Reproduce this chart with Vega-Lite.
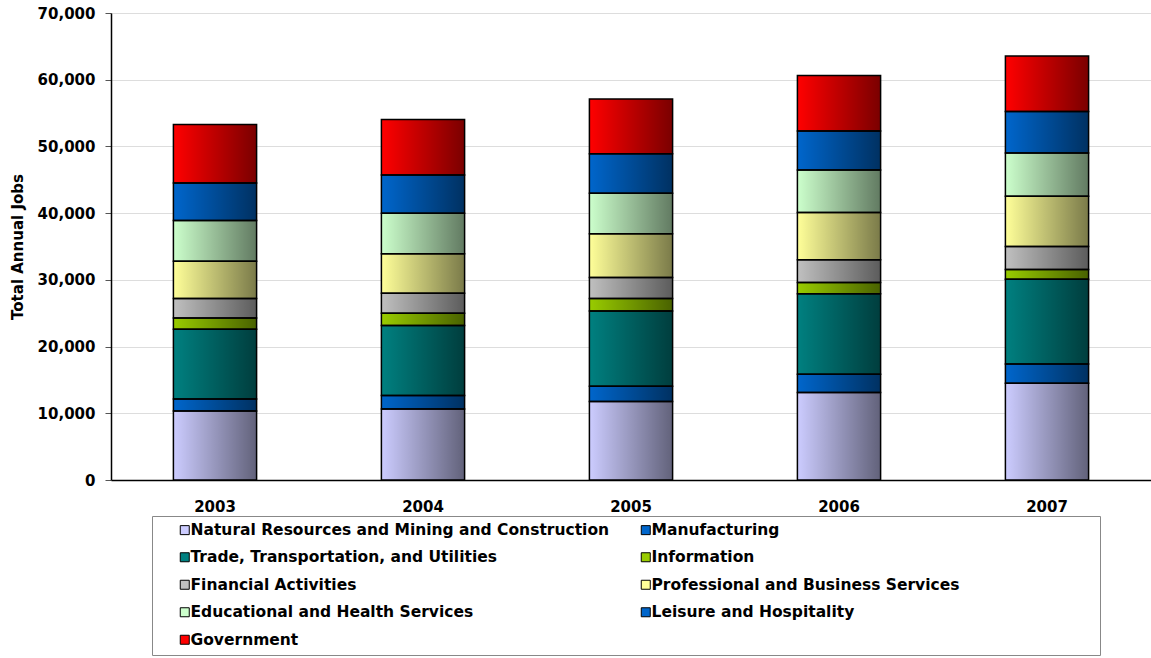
{
  "$schema": "https://vega.github.io/schema/vega-lite/v6.json",
  "width": 1040,
  "height": 467,
  "autosize": {"type": "none"},
  "padding": {"left": 111, "top": 13, "right": 0, "bottom": 178},
  "background": "white",
  "config": {"view": {"stroke": null}, "font": "DejaVu Sans"},
  "data": {
    "values": [
      {"year": "2003", "sector": "Natural Resources and Mining and Construction", "jobs": 10350},
      {"year": "2003", "sector": "Manufacturing", "jobs": 1800},
      {"year": "2003", "sector": "Trade, Transportation, and Utilities", "jobs": 10450},
      {"year": "2003", "sector": "Information", "jobs": 1700},
      {"year": "2003", "sector": "Financial Activities", "jobs": 2900},
      {"year": "2003", "sector": "Professional and Business Services", "jobs": 5600},
      {"year": "2003", "sector": "Educational and Health Services", "jobs": 6100},
      {"year": "2003", "sector": "Leisure and Hospitality", "jobs": 5600},
      {"year": "2003", "sector": "Government", "jobs": 8800},
      {"year": "2004", "sector": "Natural Resources and Mining and Construction", "jobs": 10650},
      {"year": "2004", "sector": "Manufacturing", "jobs": 2000},
      {"year": "2004", "sector": "Trade, Transportation, and Utilities", "jobs": 10500},
      {"year": "2004", "sector": "Information", "jobs": 1850},
      {"year": "2004", "sector": "Financial Activities", "jobs": 3000},
      {"year": "2004", "sector": "Professional and Business Services", "jobs": 5900},
      {"year": "2004", "sector": "Educational and Health Services", "jobs": 6100},
      {"year": "2004", "sector": "Leisure and Hospitality", "jobs": 5700},
      {"year": "2004", "sector": "Government", "jobs": 8350},
      {"year": "2005", "sector": "Natural Resources and Mining and Construction", "jobs": 11750},
      {"year": "2005", "sector": "Manufacturing", "jobs": 2300},
      {"year": "2005", "sector": "Trade, Transportation, and Utilities", "jobs": 11300},
      {"year": "2005", "sector": "Information", "jobs": 1850},
      {"year": "2005", "sector": "Financial Activities", "jobs": 3150},
      {"year": "2005", "sector": "Professional and Business Services", "jobs": 6550},
      {"year": "2005", "sector": "Educational and Health Services", "jobs": 6100},
      {"year": "2005", "sector": "Leisure and Hospitality", "jobs": 5900},
      {"year": "2005", "sector": "Government", "jobs": 8200},
      {"year": "2006", "sector": "Natural Resources and Mining and Construction", "jobs": 13100},
      {"year": "2006", "sector": "Manufacturing", "jobs": 2750},
      {"year": "2006", "sector": "Trade, Transportation, and Utilities", "jobs": 12050},
      {"year": "2006", "sector": "Information", "jobs": 1700},
      {"year": "2006", "sector": "Financial Activities", "jobs": 3400},
      {"year": "2006", "sector": "Professional and Business Services", "jobs": 7100},
      {"year": "2006", "sector": "Educational and Health Services", "jobs": 6350},
      {"year": "2006", "sector": "Leisure and Hospitality", "jobs": 5850},
      {"year": "2006", "sector": "Government", "jobs": 8350},
      {"year": "2007", "sector": "Natural Resources and Mining and Construction", "jobs": 14500},
      {"year": "2007", "sector": "Manufacturing", "jobs": 2900},
      {"year": "2007", "sector": "Trade, Transportation, and Utilities", "jobs": 12700},
      {"year": "2007", "sector": "Information", "jobs": 1450},
      {"year": "2007", "sector": "Financial Activities", "jobs": 3450},
      {"year": "2007", "sector": "Professional and Business Services", "jobs": 7550},
      {"year": "2007", "sector": "Educational and Health Services", "jobs": 6450},
      {"year": "2007", "sector": "Leisure and Hospitality", "jobs": 6250},
      {"year": "2007", "sector": "Government", "jobs": 8300}
    ]
  },
  "transform": [
    {"calculate": "indexof(['Natural Resources and Mining and Construction', 'Manufacturing', 'Trade, Transportation, and Utilities', 'Information', 'Financial Activities', 'Professional and Business Services', 'Educational and Health Services', 'Leisure and Hospitality', 'Government'], datum.sector)", "as": "ord"}
  ],
  "encoding": {
    "x": {
      "field": "year", "type": "ordinal",
      "scale": {"paddingInner": 0.6, "paddingOuter": 0.3},
      "axis": {"title": null, "labelAngle": 0, "ticks": false, "labelPadding": 19, "labelFont": "DejaVu Sans", "labelFontWeight": "bold", "labelFontSize": 15, "labelColor": "black", "domainColor": "black", "domainWidth": 1.5, "grid": false}
    },
    "y": {
      "field": "jobs", "type": "quantitative", "stack": "zero",
      "scale": {"domain": [0, 70000], "nice": false},
      "axis": {"title": "Total Annual Jobs", "values": [0, 10000, 20000, 30000, 40000, 50000, 60000, 70000], "format": ",d", "labelFont": "DejaVu Sans", "labelFontWeight": "bold", "labelFontSize": 15, "labelColor": "black", "labelPadding": 10, "tickSize": 6, "tickColor": "#555555", "domainColor": "black", "domainWidth": 1.5, "gridColor": "#dddddd", "gridWidth": 1, "titleFont": "DejaVu Sans", "titleFontWeight": "bold", "titleFontSize": 15, "titleColor": "black", "titlePadding": 12}
    },
    "order": {"field": "ord", "type": "quantitative"}
  },
  "layer": [
    {
      "mark": {"type": "bar"},
      "encoding": {
        "color": {
          "field": "sector", "type": "nominal",
          "scale": {
            "domain": ["Natural Resources and Mining and Construction", "Manufacturing", "Trade, Transportation, and Utilities", "Information", "Financial Activities", "Professional and Business Services", "Educational and Health Services", "Leisure and Hospitality", "Government"],
            "range": ["#CCCCFF", "#0066CC", "#008080", "#99CC00", "#C0C0C0", "#FFFF99", "#CCFFCC", "#0066CC", "#FF0000"]
          },
          "legend": {
            "orient": "none", "legendX": 41, "legendY": 503,
            "columns": 2, "direction": "horizontal",
            "title": " ", "titleOrient": "right", "titlePadding": 135, "titleFontSize": 8,
            "symbolType": "square", "symbolSize": 81, "symbolStrokeColor": "black", "symbolStrokeWidth": 1, "symbolOffset": 19,
            "labelFont": "DejaVu Sans", "labelFontWeight": "bold", "labelFontSize": 15.5, "labelColor": "black", "labelLimit": 800, "labelOffset": -2,
            "rowPadding": 10.5, "columnPadding": 9, "padding": 6,
            "strokeColor": "#888888"
          }
        }
      }
    },
    {
      "mark": {
        "type": "bar",
        "fill": {"x1": 0, "y1": 0, "x2": 1, "y2": 0, "gradient": "linear", "stops": [{"offset": 0, "color": "rgba(0,0,0,0)"}, {"offset": 1, "color": "rgba(0,0,0,0.52)"}]},
        "stroke": "black", "strokeWidth": 1.5
      },
      "encoding": {"detail": {"field": "sector"}}
    }
  ]
}
